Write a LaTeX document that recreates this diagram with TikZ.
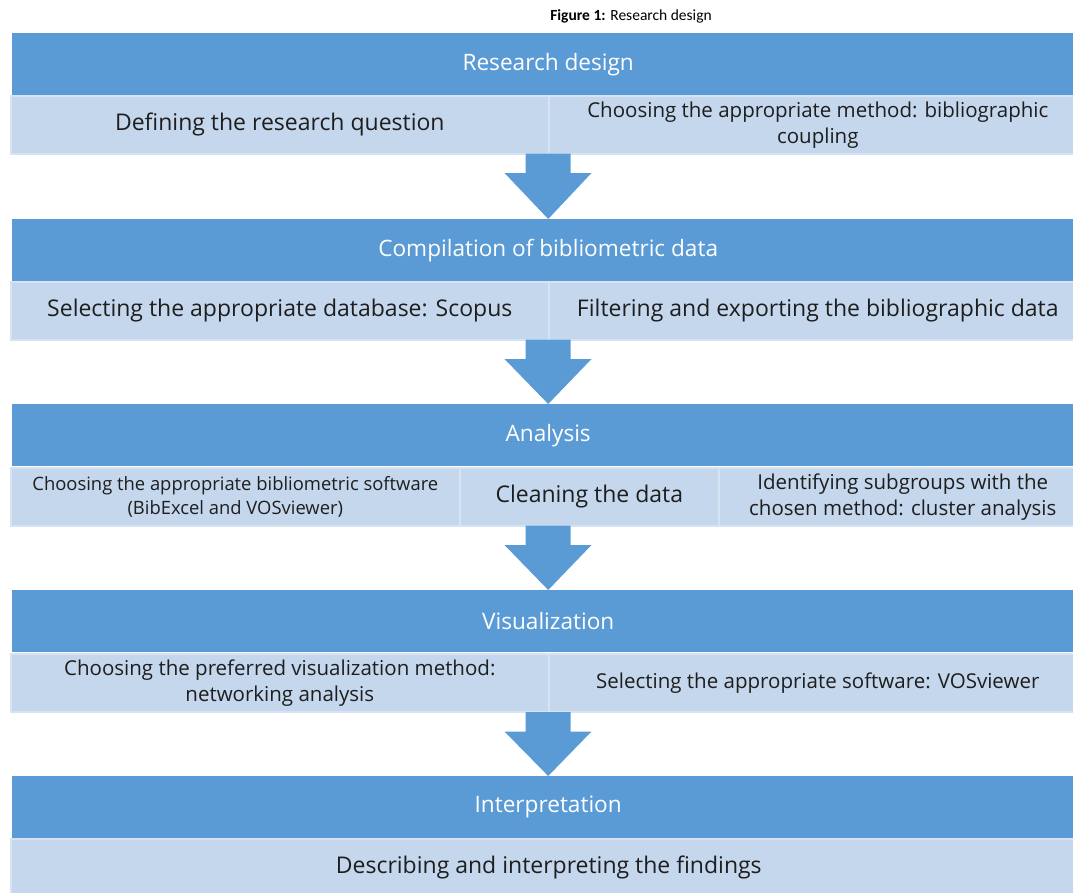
\documentclass[tikz,border=0pt]{standalone}
\usepackage{fontspec}
\setmainfont{Open Sans}
\newfontfamily\captionfont{Carlito}
\usetikzlibrary{calc}

\definecolor{hdrblue}{HTML}{5B9BD5}
\definecolor{cellblue}{HTML}{C5D7ED}
\definecolor{celledge}{HTML}{D6E3F3}
\definecolor{bodyink}{HTML}{1E1E1E}

\tikzset{
  hdr/.style={fill=hdrblue, text=white, anchor=north west, inner sep=0pt,
    minimum width=1072pt, minimum height=62pt, font=\fontsize{22.6}{27}\selectfont},
  cell/.style={fill=cellblue, draw=celledge, line width=1.6pt, text=bodyink,
    anchor=north west, inner sep=0pt, minimum height=58pt, align=center,
    font=\fontsize{23}{27}\selectfont},
  cellmid/.style={cell, font=\fontsize{20.5}{26}\selectfont},
  cellsmall/.style={cell, font=\fontsize{18.4}{24}\selectfont},
}

% block arrow from the top of its shaft (#1) down to its tip (#2)
\newcommand\blockarrow[2]{%
  \fill[hdrblue] let \p1=(#1), \p2=(#2) in
    (\x1-22.5pt,\y1) -- (\x1+22.5pt,\y1) -- (\x1+22.5pt,\y1-19.5pt)
    -- (\x1+43.5pt,\y1-19.5pt) -- (\x2,\y2) -- (\x1-43.5pt,\y1-19.5pt)
    -- (\x1-22.5pt,\y1-19.5pt) -- cycle;}

\begin{document}
\begin{tikzpicture}[x=1pt,y=-1pt]
\useasboundingbox (0,0) rectangle (1073,892);
\clip (0,0) rectangle (1073,892);

\node[font=\captionfont\fontsize{15.5}{18}\selectfont, text=black] (title) at (631,16)
  {\textbf{Figure 1:} Research design};

% stage 1
\node[hdr] (h1) at (12,33) {Research design};
\node[cell, minimum width=538pt] (c11) at (10,95) {Defining the research question};
\node[cellmid, minimum width=538pt] (c12) at (548,95)
  {Choosing the appropriate method: bibliographic\\coupling};

% stage 2
\node[hdr] (h2) at (12,219) {Compilation of bibliometric data};
\node[cell, minimum width=538pt] (c21) at (10,281) {Selecting the appropriate database: Scopus};
\node[cell, minimum width=538pt] (c22) at (548,281) {Filtering and exporting the bibliographic data};

% stage 3
\node[hdr] (h3) at (12,404) {Analysis};
\node[cellsmall, minimum width=449pt] (c31) at (10,467)
  {Choosing the appropriate bibliometric software\\(BibExcel and VOSviewer)};
\node[cell, minimum width=259pt] (c32) at (459,467) {Cleaning the data};
\node[cellmid, minimum width=368pt] (c33) at (718,467)
  {Identifying subgroups with the\\chosen method: cluster analysis};

% stage 4
\node[hdr] (h4) at (12,590) {Visualization};
\node[cellmid, minimum width=538pt] (c41) at (10,653)
  {Choosing the preferred visualization method:\\networking analysis};
\node[cellmid, minimum width=538pt] (c42) at (548,653)
  {Selecting the appropriate software: VOSviewer};

% stage 5
\node[hdr] (h5) at (12,776) {Interpretation};
\node[cell, minimum width=1076pt] (c51) at (10,838) {Describing and interpreting the findings};

% arrows between stages
\coordinate (a1) at (548,153.5);
\coordinate (a2) at (548,339.5);
\coordinate (a3) at (548,525.5);
\coordinate (a4) at (548,712);
\blockarrow{a1}{h2.north}
\blockarrow{a2}{h3.north}
\blockarrow{a3}{h4.north}
\blockarrow{a4}{h5.north}
\end{tikzpicture}
\end{document}
